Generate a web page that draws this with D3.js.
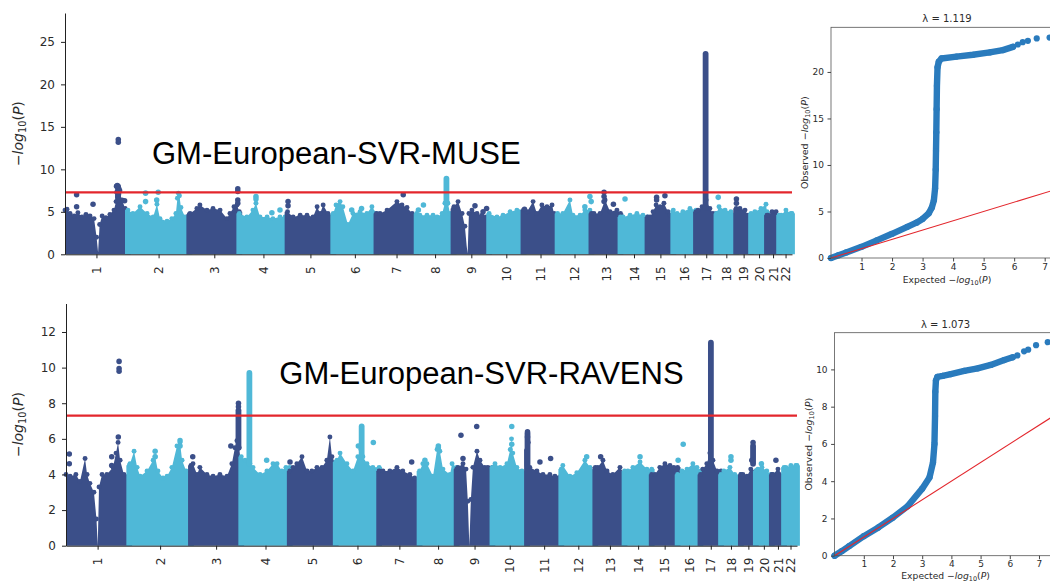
<!DOCTYPE html>
<html>
<head>
<meta charset="utf-8">
<script src="https://cdn.jsdelivr.net/npm/d3@7"></script>
<style>
  html, body { margin: 0; padding: 0; background: #fff; }
  svg { display: block; }
</style>
</head>
<body>
<svg id="fig" width="1050" height="582"></svg>
<script>
// ---------------------------------------------------------------------------
// Chromosomes (GRCh37 lengths, Mb)
// ---------------------------------------------------------------------------
const chromosomes = ["1","2","3","4","5","6","7","8","9","10","11","12","13","14","15","16","17","18","19","20","21","22"];
const chromLengthsMb = [249,243,198,191,181,171,159,146,141,136,135,134,115,107,102,90,81,78,59,63,48,51];

const gwsThreshold = 7.3;          // -log10(5e-8)
const museYTicks = [0,5,10,15,20,25];
const ravensYTicks = [0,2,4,6,8,10,12];
const qqXTicks = [1,2,3,4,5,6,7];
const museQQYTicks = [0,5,10,15,20];
const ravensQQYTicks = [0,2,4,6,8,10];

// ---------------------------------------------------------------------------
// GM-European-SVR-MUSE
// upper edge of the dense SNP cloud: [chromosome, position Mb, -log10 P]
// ---------------------------------------------------------------------------
const museEnvelope = [
  [1,0,5.2],[1,8,5.3],[1,20,4.8],[1,36,4.5],[1,51,4.9],[1,67,4.4],[1,83,4.7],[1,99,4.5],[1,115,4.2],[1,125,2.0],[1,131,0.2],[1,137,3.5],[1,147,4.5],[1,162,4.3],[1,178,4.7],[1,194,5.2],[1,202,6.2],[1,214,6.6],[1,226,6.4],[1,238,5.4],[1,249,4.6],
  [2,0,5.2],[2,20,4.8],[2,48,5.6],[2,76,4.8],[2,100,4.4],[2,115,5.9],[2,127,4.2],[2,155,3.9],[2,174,4.2],[2,190,4.8],[2,196,6.6],[2,200,7.2],[2,204,6.9],[2,210,5.5],[2,226,4.4],[2,243,4.4],
  [3,0,4.7],[3,3,4.8],[3,30,5.4],[3,42,5.8],[3,70,5.2],[3,94,5.4],[3,122,5.2],[3,149,4.2],[3,161,4.8],[3,177,5.6],[3,189,5.8],[3,198,5.0],
  [4,0,4.8],[4,30,4.4],[4,54,5.2],[4,66,6.0],[4,82,4.4],[4,110,4.4],[4,133,4.2],[4,161,4.4],[4,181,4.4],[4,191,4.4],
  [5,0,5.0],[5,22,4.4],[5,50,4.6],[5,77,4.6],[5,101,4.4],[5,117,5.6],[5,129,4.8],[5,141,5.8],[5,160,4.8],[5,181,4.6],
  [6,0,4.8],[6,11,5.8],[6,27,6.2],[6,38,5.6],[6,58,3.5],[6,78,4.8],[6,106,5.0],[6,133,4.8],[6,153,5.6],[6,171,4.8],
  [7,0,4.8],[7,14,4.8],[7,42,5.2],[7,81,6.2],[7,101,5.8],[7,121,5.5],[7,141,4.8],[7,159,4.6],
  [8,0,4.8],[8,13,4.6],[8,41,4.6],[8,65,4.6],[8,81,4.4],[8,101,4.8],[8,112,6.0],[8,124,6.0],[8,132,4.8],[8,146,4.6],
  [9,0,5.4],[9,2,5.6],[9,18,6.2],[9,34,4.8],[9,45,3.3],[9,52,1.0],[9,56,0.1],[9,61,4.8],[9,73,5.2],[9,93,4.8],[9,113,4.6],[9,129,4.4],[9,141,4.4],
  [10,0,4.8],[10,31,4.4],[10,55,4.6],[10,83,5.0],[10,110,5.2],[10,122,5.0],[10,136,4.8],
  [11,0,5.2],[11,14,5.0],[11,38,6.2],[11,53,4.8],[11,73,5.8],[11,93,5.6],[11,113,5.8],[11,121,4.8],[11,135,4.6],
  [12,0,4.8],[12,21,4.8],[12,49,6.4],[12,61,4.6],[12,89,4.6],[12,108,5.2],[12,128,5.2],[12,134,4.8],
  [13,0,4.8],[13,10,4.8],[13,34,4.8],[13,54,6.4],[13,74,5.0],[13,101,5.2],[13,115,4.8],
  [14,0,4.4],[14,10,4.4],[14,38,4.6],[14,65,4.8],[14,89,4.6],[14,107,4.4],
  [15,0,4.4],[15,10,4.4],[15,22,5.0],[15,34,5.8],[15,50,5.6],[15,65,6.0],[15,81,5.0],[15,89,4.6],[15,102,4.6],
  [16,0,5.2],[16,15,4.8],[16,38,5.0],[16,66,5.4],[16,90,5.2],
  [17,0,5.0],[17,8,5.2],[17,24,5.6],[17,40,6.4],[17,55,5.4],[17,67,4.8],[17,81,4.8],
  [18,0,4.8],[18,10,5.6],[18,34,5.2],[18,57,5.0],[18,78,4.8],
  [19,0,5.4],[19,15,5.4],[19,35,5.2],[19,47,4.6],[19,59,4.6],
  [20,0,4.8],[20,15,5.0],[20,39,5.4],[20,59,5.9],[20,63,5.0],
  [21,0,4.6],[21,4,4.6],[21,20,5.0],[21,36,5.0],[21,48,4.4],
  [22,0,4.6],[22,8,4.6],[22,27,5.2],[22,47,4.8],[22,51,4.8]
];
// isolated SNPs above the cloud: [chromosome, position Mb, -log10 P]
const museHits = [
  [1,46,7.0],[1,46,5.6],[1,111,5.9],[1,204,8.0],[1,207,8.1],[1,210,7.9],[1,213,7.7],[1,216,7.5],[1,206,7.3],[1,212,7.1],[1,209,6.8],[1,211,13.5],[1,211,13.2],[1,236,6.3],
  [2,70,7.2],[2,70,6.2],[2,120,7.3],[2,114,6.4],
  [3,192,7.7],[3,192,7.4],[3,192,6.4],[3,192,6.0],
  [4,66,6.8],[4,66,6.5],[4,129,4.9],[4,161,5.2],
  [5,2,6.2],[5,2,5.7],
  [6,73,5.2],[6,112,5.4],
  [7,106,7.0],
  [8,7,5.2],[8,27,5.8],
  [9,85,5.7],[9,131,5.4],[9,117,5.0],
  [11,4,5.3],
  [12,128,6.8],[12,133,6.2],[12,108,5.6],
  [13,50,7.3],[13,50,6.8],[13,50,6.2],[13,87,5.9],
  [14,18,6.5],
  [15,36,6.7],[15,36,6.4],[15,69,6.9],
  [18,7,6.7],
  [19,1,6.5],[19,1,6.0]
];
// dense vertical stacks of SNPs: [chromosome, position Mb, low, high]
const museColumns = [
  [1,210,6.4,8.0],[8,118,6.0,8.9],[17,38,5.5,23.6]
];

// ---------------------------------------------------------------------------
// GM-European-SVR-RAVENS
// ---------------------------------------------------------------------------
const ravensEnvelope = [
  [1,0,4.0],[1,16,3.9],[1,39,4.0],[1,55,3.6],[1,75,4.9],[1,83,4.0],[1,94,3.5],[1,110,3.0],[1,120,1.5],[1,125,0],[1,130,3.3],[1,142,4.0],[1,161,4.0],[1,185,4.4],[1,197,5.2],[1,205,5.8],[1,213,4.8],[1,228,4.0],[1,249,4.0],
  [2,0,4.5],[2,3,4.6],[2,19,5.3],[2,31,4.4],[2,43,3.9],[2,70,4.2],[2,94,4.8],[2,102,5.0],[2,113,4.2],[2,133,3.8],[2,149,3.9],[2,168,4.4],[2,188,5.6],[2,200,5.8],[2,208,4.8],[2,224,4.2],[2,243,4.2],
  [3,0,4.5],[3,8,4.6],[3,24,4.0],[3,35,4.4],[3,63,4.0],[3,87,3.9],[3,114,4.0],[3,142,3.9],[3,161,4.6],[3,173,5.5],[3,181,5.9],[3,190,5.5],[3,198,4.4],
  [4,0,5.0],[4,15,4.8],[4,34,4.6],[4,46,4.4],[4,74,4.0],[4,101,4.2],[4,125,4.6],[4,141,4.6],[4,160,4.2],[4,176,4.4],[4,191,4.4],
  [5,0,4.2],[5,13,4.4],[5,28,4.6],[5,48,5.0],[5,68,4.2],[5,87,4.2],[5,107,4.4],[5,127,4.4],[5,146,4.8],[5,158,6.1],[5,166,5.0],[5,181,4.6],
  [6,0,4.7],[6,5,4.8],[6,17,5.2],[6,44,4.6],[6,68,4.2],[6,87,5.0],[6,99,5.4],[6,107,5.0],[6,123,4.6],[6,146,4.4],[6,171,4.4],
  [7,0,4.2],[7,15,4.2],[7,42,4.2],[7,70,4.4],[7,93,4.2],[7,121,4.0],[7,140,3.8],[7,159,3.9],
  [8,0,4.2],[8,13,4.6],[8,29,4.6],[8,53,3.9],[8,69,5.4],[8,80,5.3],[8,92,4.3],[8,120,4.0],[8,128,4.6],[8,146,4.4],
  [9,0,4.3],[9,5,4.4],[9,25,4.6],[9,37,4.3],[9,44,2.5],[9,50,0],[9,56,2.6],[9,64,4.4],[9,80,5.3],[9,92,4.8],[9,111,4.4],[9,123,4.4],[9,141,4.4],
  [10,0,4.4],[10,10,4.6],[10,30,4.4],[10,57,4.6],[10,70,5.4],[10,75,6.0],[10,80,5.2],[10,96,4.4],[10,116,4.2],[10,136,4.2],
  [11,0,5.4],[11,5,5.8],[11,11,4.4],[11,39,4.2],[11,63,4.0],[11,90,4.0],[11,110,3.9],[11,135,4.0],
  [12,0,4.3],[12,6,4.5],[12,34,3.9],[12,61,4.1],[12,93,4.8],[12,113,4.4],[12,134,4.2],
  [13,0,4.4],[13,10,4.4],[13,30,4.8],[13,46,4.2],[13,69,4.0],[13,97,4.4],[13,115,4.0],
  [14,0,4.2],[14,13,4.2],[14,33,4.4],[14,61,4.7],[14,88,4.3],[14,107,4.3],
  [15,0,4.0],[15,13,4.0],[15,32,4.4],[15,52,4.6],[15,72,4.5],[15,87,4.4],[15,102,4.4],
  [16,0,4.0],[16,17,4.2],[16,37,4.3],[16,60,4.6],[16,76,4.4],[16,90,4.2],
  [17,0,4.0],[17,9,4.3],[17,25,4.6],[17,37,5.2],[17,49,4.8],[17,65,4.2],[17,81,4.2],
  [18,0,4.0],[18,11,4.2],[18,35,4.4],[18,54,4.0],[18,78,4.0],
  [19,0,4.0],[19,8,4.0],[19,24,3.9],[19,39,4.3],[19,59,4.2],
  [20,0,4.2],[20,8,4.3],[20,24,4.4],[20,43,4.2],[20,59,4.0],[20,63,4.0],
  [21,0,4.0],[21,4,4.0],[21,24,4.3],[21,47,3.9],[21,48,3.9],
  [22,0,4.4],[22,7,4.4],[22,27,4.5],[22,46,4.5],[22,51,4.5]
];
const ravensHits = [
  [1,13,5.15],[1,13,4.6],[1,180,5.0],[1,180,4.5],[1,206,6.1],[1,209,10.35],[1,209,9.95],[1,209,9.8],
  [2,102,5.3],[2,102,5.0],[2,200,5.9],[2,200,5.6],
  [3,187,8.0],[3,187,7.8],[3,157,5.6],[3,7,5.0],
  [4,100,4.8],
  [5,1,4.7],
  [6,89,5.6],[6,148,5.8],
  [7,128,4.7],
  [8,21,4.8],[8,74,5.6],[8,74,5.5],
  [9,17,6.2],[9,25,4.9],[9,79,6.7],
  [10,76,6.7],[10,76,5.7],
  [11,2,6.4],[11,2,6.1],[11,51,4.7],[11,93,4.9],
  [12,100,5.0],
  [13,21,5.0],
  [14,61,5.0],
  [16,22,5.7],[16,2,4.8],
  [18,39,5.0],[18,39,4.8],
  [19,48,5.8],[19,43,4.8],
  [20,22,4.6],
  [21,16,4.8]
];
const ravensColumns = [
  [3,187,5.5,7.6],[4,32,4.6,9.7],[6,102,5.0,6.7],[11,2,4.5,6.3],[17,41,4.5,11.4],[19,48,4.6,5.6]
];

// ---------------------------------------------------------------------------
// QQ plots: expected vs observed -log10 P
// ---------------------------------------------------------------------------
const museLambda = "1.119";
const museQQExpected = [0,0.25,0.5,1.0,1.5,2.0,2.5,2.8,3.0,3.2,3.3,3.37,3.41,3.43,3.44,3.45,3.46,3.47,3.49,3.53,3.62,4.11,4.65,5.2,5.63,5.96];
const museQQObserved = [0,0.3,0.6,1.2,1.9,2.6,3.35,3.8,4.2,4.8,5.4,6.2,7.5,9.5,11.5,13.5,16.0,18.5,20.5,21.1,21.45,21.65,21.85,22.1,22.35,22.7];
const museQQTailExpected = [6.12,6.28,6.45,6.74,7.16];
const museQQTailObserved = [22.95,23.2,23.35,23.6,23.7];

const ravensLambda = "1.073";
const ravensQQExpected = [0,0.25,0.5,1.0,1.5,2.0,2.5,3.0,3.25,3.37,3.42,3.44,3.45,3.47,3.52,3.7,3.98,4.44,4.9,5.35,5.81,6.1];
const ravensQQObserved = [0,0.25,0.52,1.05,1.52,2.05,2.65,3.6,4.2,5.0,6.0,7.5,8.8,9.4,9.6,9.65,9.75,9.92,10.06,10.24,10.5,10.65];
const ravensQQTailExpected = [6.26,6.49,6.63,6.9,7.3];
const ravensQQTailObserved = [10.75,10.97,11.06,11.3,11.46];

// ---------------------------------------------------------------------------
const svg = d3.select("#fig");
const DARK = "#3b4f89", LIGHT = "#4fb8d7";
const AXIS = "#222", TEXT = "#2b2b2b";
const QQBLUE = "#2a7bbd", RED = "#e3262c";

function logPLabel(sel, size, prefix) {
  if (prefix) sel.append("tspan").text(prefix);
  sel.append("tspan").text("\u2212");
  sel.append("tspan").attr("font-style", "italic").text("log");
  sel.append("tspan").attr("font-size", size * 0.7).attr("dy", size * 0.2).text("10");
  sel.append("tspan").attr("dy", -size * 0.2).text("(");
  sel.append("tspan").attr("font-style", "italic").text("P");
  sel.append("tspan").text(")");
}

function drawManhattan(o) {
  const offsets = [0];
  chromLengthsMb.forEach(l => offsets.push(offsets[offsets.length - 1] + l));
  const total = offsets[offsets.length - 1];
  const x = d3.scaleLinear().domain([0, total]).range([o.left, o.right]);
  const y = d3.scaleLinear().domain([0, o.yMax]).range([o.bottom, o.top]);
  const g = svg.append("g");
  const px = (c, mb) => x(offsets[c - 1] + mb);
  const col = c => (c % 2 === 1 ? DARK : LIGHT);
  const R = 2.9;   // marker radius in px
  const area = d3.area().x(d => d[0]).y0(y(0)).y1(d => d[1]);

  chromosomes.forEach((name, i) => {
    const c = i + 1;
    const fill = col(c);
    const pts = o.envelope.filter(d => d[0] === c)
      .sort((a, b) => a[1] - b[1])
      .map(d => [px(c, d[1]), y(d[2])]);
    const first = pts[0], last = pts[pts.length - 1];
    // markers spill one radius beyond the chromosome's first and last SNP
    const poly = [[c === 1 ? first[0] : first[0] - R, first[1]], ...pts, [last[0] + R, last[1]]];
    g.append("path").attr("d", area(poly)).attr("fill", fill);
    g.selectAll(null).data(pts.filter(p => p[1] < y(1))).enter().append("circle")
      .attr("cx", d => d[0]).attr("cy", d => d[1]).attr("r", R * 0.85).attr("fill", fill);
    o.columns.filter(d => d[0] === c).forEach(d => {
      g.append("line")
        .attr("x1", px(c, d[1])).attr("x2", px(c, d[1]))
        .attr("y1", y(d[2])).attr("y2", y(d[3]))
        .attr("stroke", fill).attr("stroke-width", 2 * R).attr("stroke-linecap", "round");
    });
    g.selectAll(null).data(o.hits.filter(d => d[0] === c)).enter().append("circle")
      .attr("cx", d => px(c, d[1])).attr("cy", d => y(d[2])).attr("r", R * 0.95).attr("fill", fill);
  });

  // genome-wide significance
  g.append("line")
    .attr("x1", o.left).attr("x2", o.right)
    .attr("y1", y(gwsThreshold)).attr("y2", y(gwsThreshold))
    .attr("stroke", RED).attr("stroke-width", 2.3);

  const yAxis = g.append("g").attr("transform", `translate(${o.left},0)`)
    .call(d3.axisLeft(y).tickValues(o.yTicks).tickSize(4).tickSizeOuter(0).tickPadding(6));
  yAxis.attr("font-family", "DejaVu Sans").attr("font-size", 12).attr("color", AXIS);
  yAxis.selectAll("text").attr("fill", TEXT);

  const mids = chromLengthsMb.map((l, i) => offsets[i] + l / 2);
  const xAxis = g.append("g").attr("transform", `translate(0,${o.bottom})`)
    .call(d3.axisBottom(x).tickValues(mids).tickFormat((d, i) => chromosomes[i]).tickSize(4).tickSizeOuter(0));
  xAxis.attr("font-family", "DejaVu Sans").attr("font-size", 12).attr("color", AXIS);
  xAxis.selectAll("text")
    .attr("fill", TEXT)
    .attr("transform", "rotate(-90)")
    .attr("x", -12).attr("y", 0).attr("dy", "0.35em")
    .style("text-anchor", "end");

  const lab = svg.append("text")
    .attr("transform", `translate(23,${(o.top + o.bottom) / 2}) rotate(-90)`)
    .attr("text-anchor", "middle").attr("font-family", "DejaVu Sans")
    .attr("font-size", 14).attr("fill", TEXT);
  logPLabel(lab, 14);

  svg.append("text").attr("x", o.titleX).attr("y", o.titleY)
    .attr("font-family", "Liberation Sans, Arial, sans-serif").attr("font-size", 31)
    .attr("fill", "#000").text(o.title);
}

function drawQQ(o) {
  const x = d3.scaleLinear().domain([0, o.xMax]).range([o.left, o.right]);
  const y = d3.scaleLinear().domain([0, o.yMax]).range([o.bottom, o.top]);
  const g = svg.append("g");
  const pts = o.expected.map((e, i) => [x(e), y(o.observed[i])]);
  const tail = o.tailExpected.map((e, i) => [x(e), y(o.tailObserved[i])]);

  g.append("path").attr("d", d3.line()(pts)).attr("fill", "none")
    .attr("stroke", QQBLUE).attr("stroke-width", 6.4)
    .attr("stroke-linecap", "round").attr("stroke-linejoin", "round");
  g.selectAll(null).data(pts.concat(tail)).enter().append("circle")
    .attr("cx", d => d[0]).attr("cy", d => d[1]).attr("r", 3.1).attr("fill", QQBLUE);

  g.append("line")
    .attr("x1", x(0)).attr("y1", y(0)).attr("x2", x(o.xMax)).attr("y2", y(o.xMax))
    .attr("stroke", RED).attr("stroke-width", 1.1);

  g.append("rect").attr("x", o.left).attr("y", o.top)
    .attr("width", o.right - o.left).attr("height", o.bottom - o.top)
    .attr("fill", "none").attr("stroke", "#555").attr("stroke-width", 0.8);

  const ya = g.append("g").attr("transform", `translate(${o.left},0)`)
    .call(d3.axisLeft(y).tickValues(o.yTicks).tickSize(3.5).tickPadding(3.5));
  const xa = g.append("g").attr("transform", `translate(0,${o.bottom})`)
    .call(d3.axisBottom(x).tickValues(qqXTicks).tickSize(3.5).tickPadding(1.8));
  [ya, xa].forEach(a => {
    a.select(".domain").remove();
    a.attr("font-family", "DejaVu Sans").attr("font-size", 9).attr("color", "#444");
    a.selectAll("text").attr("fill", TEXT);
  });

  svg.append("text").attr("x", (o.left + o.right) / 2).attr("y", o.top - 5)
    .attr("text-anchor", "middle").attr("font-family", "DejaVu Sans")
    .attr("font-size", 10).attr("fill", TEXT)
    .text("\u03bb = " + o.lambda);

  const xl = svg.append("text").attr("x", (o.left + o.right) / 2).attr("y", o.bottom + o.xLabelGap)
    .attr("text-anchor", "middle").attr("font-family", "DejaVu Sans")
    .attr("font-size", 9.2).attr("fill", TEXT);
  logPLabel(xl, 9.2, "Expected ");

  const yl = svg.append("text")
    .attr("transform", `translate(${o.left - 23},${(o.top + o.bottom) / 2}) rotate(-90)`)
    .attr("text-anchor", "middle").attr("font-family", "DejaVu Sans")
    .attr("font-size", 9.5).attr("fill", TEXT);
  logPLabel(yl, 9.5, "Observed ");
}

drawManhattan({
  left: 65, right: 792, top: 13, bottom: 254.3, yMax: 28.4, yTicks: museYTicks,
  envelope: museEnvelope, hits: museHits, columns: museColumns,
  title: "GM-European-SVR-MUSE", titleX: 152, titleY: 164.3
});
drawManhattan({
  left: 66, right: 797, top: 303.5, bottom: 545.7, yMax: 13.6, yTicks: ravensYTicks,
  envelope: ravensEnvelope, hits: ravensHits, columns: ravensColumns,
  title: "GM-European-SVR-RAVENS", titleX: 279.3, titleY: 384.3
});
drawQQ({
  left: 831, right: 1063, top: 27.3, bottom: 258, xMax: 7.6, yMax: 24.8, xLabelGap: 25,
  yTicks: museQQYTicks, expected: museQQExpected, observed: museQQObserved,
  tailExpected: museQQTailExpected, tailObserved: museQQTailObserved, lambda: museLambda
});
drawQQ({
  left: 834.6, right: 1056.5, top: 332.7, bottom: 555.7, xMax: 7.6, yMax: 11.97, xLabelGap: 23.6,
  yTicks: ravensQQYTicks, expected: ravensQQExpected, observed: ravensQQObserved,
  tailExpected: ravensQQTailExpected, tailObserved: ravensQQTailObserved, lambda: ravensLambda
});
</script>
</body>
</html>
